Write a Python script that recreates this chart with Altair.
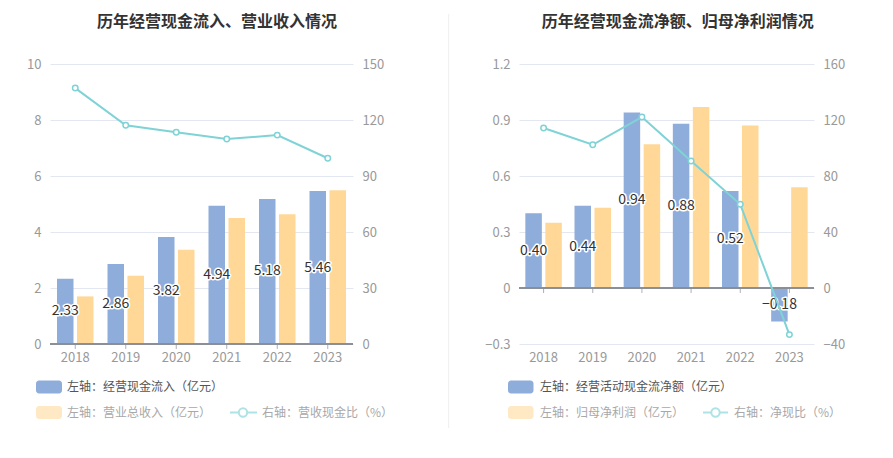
import altair as alt
import pandas as pd

years = ["2018", "2019", "2020", "2021", "2022", "2023"]

# left panel
cash_inflow = [2.33, 2.86, 3.82, 4.94, 5.18, 5.46]
revenue = [1.70, 2.44, 3.37, 4.50, 4.63, 5.49]
cash_ratio = [137.1, 117.2, 113.4, 109.8, 111.9, 99.5]

# right panel
net_cash = [0.40, 0.44, 0.94, 0.88, 0.52, -0.18]
net_profit = [0.35, 0.43, 0.77, 0.97, 0.87, 0.54]
net_ratio = [114.3, 102.3, 122.1, 90.7, 59.8, -33.3]

left_ticks = [0, 2, 4, 6, 8, 10]
left_rticks = [0, 30, 60, 90, 120, 150]
right_ticks = [-0.3, 0, 0.3, 0.6, 0.9, 1.2]
right_rticks = [-40, 0, 40, 80, 120, 160]

titles = ["历年经营现金流入、营业收入情况", "历年经营现金流净额、归母净利润情况"]
left_names = ["左轴：经营现金流入（亿元）", "左轴：营业总收入（亿元）", "右轴：营收现金比（%）"]
right_names = ["左轴：经营活动现金流净额（亿元）", "左轴：归母净利润（亿元）", "右轴：净现比（%）"]

FONT = "Noto Sans CJK SC"
BLUE = "#8FADDB"
ORANGE = "#FFD898"
TEAL = "#7FD3D6"
LABEL = "#999999"
GRID = "#E3E7F2"
AXIS = "#8A8D96"
H = 280
BAR_W = 16.5
BAR_OFF = 10


def panel(names, b1, b2, ratio, ydom, yticks, yexpr, rdom, rticks, width,
          title, title_x, leg, left_ext, divider_x=None):
    b1_df = pd.DataFrame({"year": years, "value": b1})
    b2_df = pd.DataFrame({"year": years, "value": b2})
    ratio_df = pd.DataFrame({"year": years, "ratio": ratio})
    zero_df = pd.DataFrame({"year": years, "z": [0] * 6})

    xenc = alt.X("year:N", sort=years, title=None,
                 scale=alt.Scale(paddingInner=0, paddingOuter=0),
                 axis=alt.Axis(domain=False, ticks=False, labelColor=LABEL,
                               labelFontSize=13, labelPadding=7, labelAngle=0,
                               labelFont=FONT))
    yscale = alt.Scale(domain=ydom, nice=False, zero=False)
    yaxis = alt.Axis(values=yticks, grid=True, gridColor=GRID, gridWidth=1,
                     domain=False, ticks=False, labelColor=LABEL,
                     labelFontSize=13, labelPadding=9, labelFont=FONT,
                     minExtent=left_ext, labelExpr=yexpr)

    bars1 = alt.Chart(b1_df).mark_bar(width=BAR_W, xOffset=-BAR_OFF,
                                      color=BLUE).encode(
        x=xenc,
        y=alt.Y("value:Q", scale=yscale, axis=yaxis, title=None))
    bars2 = alt.Chart(b2_df).mark_bar(width=BAR_W, xOffset=BAR_OFF,
                                      color=ORANGE).encode(
        x=xenc,
        y=alt.Y("value:Q", scale=yscale, title=None))
    base_lab = alt.Chart(b1_df).transform_calculate(
        mid="datum.value / 2", lab="format(datum.value, '.2f')")
    halo = base_lab.mark_text(fontSize=14, font=FONT, color="#333333",
                              stroke="white", strokeWidth=3, strokeJoin="round",
                              baseline="middle", dx=-BAR_OFF).encode(
        x=xenc, y=alt.Y("mid:Q", scale=yscale, title=None), text="lab:N")
    labs = base_lab.mark_text(fontSize=14, font=FONT, color="#333333",
                              baseline="middle", dx=-BAR_OFF).encode(
        x=xenc, y=alt.Y("mid:Q", scale=yscale, title=None), text="lab:N")
    zero = alt.Chart(zero_df).mark_rule(color=AXIS, strokeWidth=1).encode(
        y=alt.Y("z:Q", scale=yscale, title=None))
    ticks = alt.Chart(zero_df).mark_tick(orient="vertical", size=5, thickness=1,
                                         color=AXIS, yOffset=2.5).encode(
        x=xenc, y=alt.Y("z:Q", scale=yscale, title=None))

    one = pd.DataFrame({"t": [0]})
    deco = []
    # title
    deco.append(alt.Chart(pd.DataFrame({"t": [title]})).mark_text(
        fontSize=16, fontWeight="bold", color="#333333", font=FONT,
        baseline="middle", align="center").encode(
        x=alt.value(title_x), y=alt.value(-42), text="t:N"))
    # legend
    r1, r2 = 323, 348.5
    deco.append(alt.Chart(one).mark_rect(cornerRadius=3, color=BLUE).encode(
        x=alt.value(leg["rx0"]), x2=alt.value(leg["rx1"]),
        y=alt.value(r1 - 6.5), y2=alt.value(r1 + 6.5)))
    deco.append(alt.Chart(one).mark_rect(cornerRadius=3, color="#FFE8C4").encode(
        x=alt.value(leg["rx0"]), x2=alt.value(leg["rx1"]),
        y=alt.value(r2 - 6.5), y2=alt.value(r2 + 6.5)))
    deco.append(alt.Chart(pd.DataFrame({"t": [names[0]]})).mark_text(
        fontSize=12, font=FONT, color="#555555", align="left",
        baseline="middle").encode(x=alt.value(leg["tx"]), y=alt.value(r1),
                                  text="t:N"))
    deco.append(alt.Chart(pd.DataFrame({"t": [names[1]]})).mark_text(
        fontSize=12, font=FONT, color="#A8A8A8", align="left",
        baseline="middle").encode(x=alt.value(leg["tx"]), y=alt.value(r2),
                                  text="t:N"))
    deco.append(alt.Chart(one).mark_rule(color="#AEE3E5", strokeWidth=2).encode(
        x=alt.value(leg["lx0"]), x2=alt.value(leg["lx1"]), y=alt.value(r2)))
    deco.append(alt.Chart(one).mark_point(shape="circle", filled=True,
                                          fill="white", stroke="#AEE3E5",
                                          strokeWidth=2, size=70, opacity=1).encode(
        x=alt.value(leg["cx"]), y=alt.value(r2)))
    deco.append(alt.Chart(pd.DataFrame({"t": [names[2]]})).mark_text(
        fontSize=12, font=FONT, color="#A8A8A8", align="left",
        baseline="middle").encode(x=alt.value(leg["tx2"]), y=alt.value(r2),
                                  text="t:N"))
    if divider_x is not None:
        deco.append(alt.Chart(one).mark_rule(color="#EEEEEE", strokeWidth=1).encode(
            x=alt.value(divider_x), y=alt.value(-50), y2=alt.value(364)))

    inner = alt.layer(bars1, bars2, halo, labs, zero, ticks, *deco)

    line = alt.Chart(ratio_df).mark_line(
        color=TEAL, strokeWidth=2,
        point=alt.OverlayMarkDef(filled=True, fill="white", stroke=TEAL,
                                 strokeWidth=1.5, size=30, opacity=1)).encode(
        x=xenc,
        y=alt.Y("ratio:Q", title=None,
                scale=alt.Scale(domain=rdom, nice=False, zero=False),
                axis=alt.Axis(orient="right", values=rticks, grid=False,
                              domain=False, ticks=False, labelColor=LABEL,
                              labelFontSize=13, labelPadding=9, labelFont=FONT,
                              minExtent=40)))
    return alt.layer(inner, line).resolve_scale(y="independent").properties(
        width=width, height=H)


left = panel(left_names, cash_inflow, revenue, cash_ratio, [0, 10], left_ticks,
             "format(datum.value, 'd')", [0, 150], left_rticks, 303,
             titles[0], 167,
             {"rx0": -14, "rx1": 12, "tx": 17, "lx0": 180, "lx1": 207,
              "cx": 193, "tx2": 212}, 42, divider_x=398.7)
right = panel(right_names, net_cash, net_profit, net_ratio, [-0.3, 1.2],
              right_ticks,
              "datum.value == 0 ? '0' : format(datum.value, '.1f')",
              [-40, 160], right_rticks, 295, titles[1], 158.7,
              {"rx0": -11, "rx1": 14.5, "tx": 21, "lx0": 184, "lx1": 209,
               "cx": 196.5, "tx2": 215}, 40)

chart = alt.hconcat(left, right, spacing=29).properties(
    padding={"left": 0, "top": 5, "right": 0, "bottom": 0},
    background="white",
).configure_view(stroke=None)

chart.save("out.html", embed_options={"renderer": "svg", "actions": False})
